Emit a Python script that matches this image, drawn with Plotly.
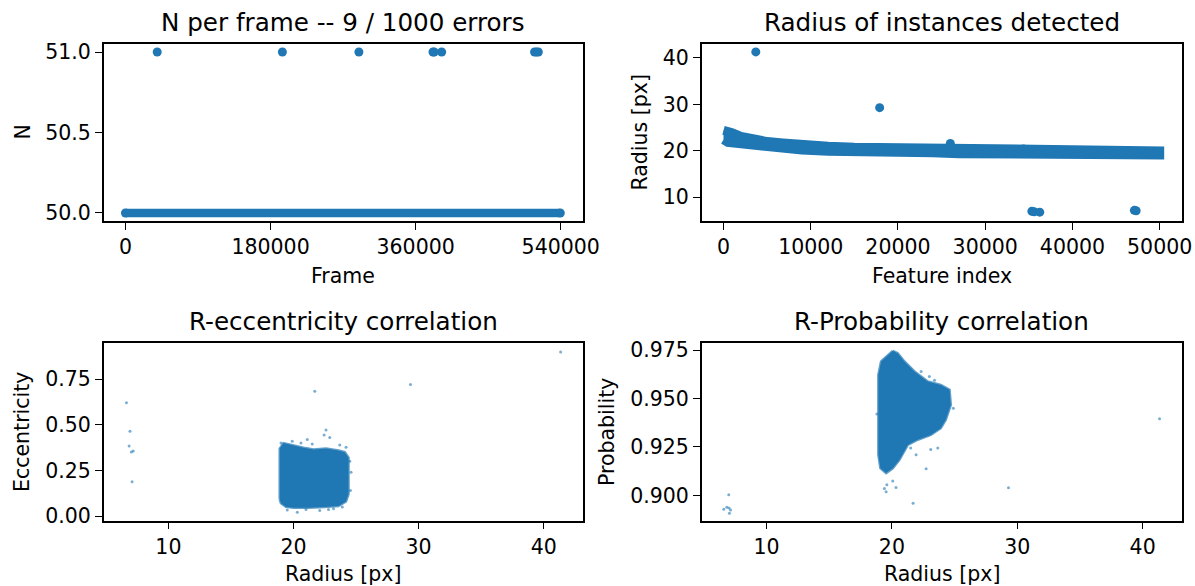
import plotly.graph_objects as go

BLUE = "#1f77b4"
FONT = "DejaVu Sans"
W, H = 1195, 586

# ---------------- data ----------------
# Top-left: N per frame
frame_first, frame_last = 0, 539460
n_expected = 50
error_frames = [39400, 194700, 289600, 381500, 383000, 392300, 507500, 510000, 512200]
error_n = [51, 51, 51, 51, 51, 51, 51, 51, 51]

# Top-right: radius vs feature index (dense band envelope + isolated points)
band_index = [0, 500, 1000, 2000, 3000, 4000, 5000, 6800, 9000, 12000, 15000,
              18000, 21000, 24000, 27000, 30000, 34000, 38000, 42000, 46000, 49999]
band_upper = [24.4, 24.3, 23.9, 23.1, 22.6, 22.3, 22.0, 21.7, 21.3, 21.0, 20.8,
              20.7, 20.6, 20.5, 20.4, 20.2, 20.1, 20.1, 20.1, 20.0, 20.0]
band_lower = [22.4, 21.8, 21.4, 21.3, 21.0, 20.9, 20.7, 20.6, 20.2, 19.9, 19.8,
              19.7, 19.6, 19.6, 19.4, 19.3, 19.2, 19.2, 19.2, 19.1, 19.1]
iso_index = [3700, 17900, 26000, 34400, 35350, 35600, 36250, 47100, 47300]
iso_radius = [41.3, 29.3, 21.6, 20.4, 7.0, 6.9, 6.8, 7.2, 7.1]

# Bottom-left: eccentricity vs radius
ecc_env_r = [18.9, 18.9, 19.2, 19.8, 20.8, 21.6, 22.6, 23.6, 24.1, 24.4, 24.4,
             24.2, 23.6, 22.5, 21.2, 20.0, 19.4, 19.0]
ecc_env_e = [0.09, 0.37, 0.40, 0.39, 0.375, 0.365, 0.37, 0.36, 0.35, 0.32, 0.12,
             0.08, 0.055, 0.05, 0.045, 0.045, 0.05, 0.07]
ecc_pts_r = [21.1, 21.5, 22.45, 22.6, 22.9, 23.7, 24.2, 22.1, 19.5, 24.6, 24.55,
             20.3, 23.2, 19.0, 21.0, 19.9, 20.6, 22.8, 23.9, 24.5,
             6.65, 6.93, 6.86, 7.04, 7.19, 7.1, 21.7, 29.35, 41.35]
ecc_pts_e = [0.42, 0.395, 0.444, 0.472, 0.43, 0.39, 0.377, 0.03, 0.033, 0.24, 0.14,
             0.02, 0.04, 0.40, 0.035, 0.41, 0.40, 0.035, 0.05, 0.30,
             0.621, 0.465, 0.384, 0.351, 0.357, 0.188, 0.684, 0.722, 0.90]

# Bottom-right: probability vs radius
prob_env_r = [20.07, 20.47, 21.0, 21.8, 22.86, 23.9, 24.6, 24.7, 24.3, 23.9, 23.1,
              22.06, 21.27, 20.6, 20.07, 19.54, 19.08, 18.92, 18.92, 19.14]
prob_env_p = [0.9746, 0.9734, 0.9691, 0.964, 0.9588, 0.957, 0.9545, 0.9467, 0.939,
              0.9347, 0.9312, 0.9287, 0.926, 0.9183, 0.914, 0.9115, 0.914, 0.921,
              0.9622, 0.9691]
prob_pts_r = [22.73, 23.66, 23.1, 21.93, 19.54, 20.33, 20.07, 19.4, 22.33, 22.99,
              19.6, 24.9, 23.4, 21.5, 18.8,
              6.59, 6.83, 7.01, 7.13, 7.04, 6.99, 21.69, 29.3, 41.35]
prob_pts_p = [0.9137, 0.9244, 0.9236, 0.921, 0.9019, 0.904, 0.9074, 0.9035, 0.964,
              0.9614, 0.9055, 0.945, 0.9594, 0.9245, 0.942,
              0.8928, 0.8938, 0.8934, 0.8924, 0.8907, 0.9003, 0.8959, 0.9039, 0.9396]

# ---------------- layout helpers ----------------
def px_x(p):
    return p / W

def px_y(p):
    return 1 - p / H

LX = [px_x(103.7), px_x(582.5)]
RX = [px_x(701.7), px_x(1181.5)]
TY = [px_y(221), px_y(44)]
BY = [px_y(520.7), px_y(343.3)]

fig = go.Figure()

# Top-left
fig.add_trace(go.Scatter(x=[frame_first, frame_last], y=[n_expected, n_expected],
                         mode="lines+markers", line=dict(color=BLUE, width=8.5),
                         marker=dict(color=BLUE, size=9), xaxis="x", yaxis="y",
                         showlegend=False))
fig.add_trace(go.Scatter(x=error_frames, y=error_n, mode="markers",
                         marker=dict(color=BLUE, size=9), xaxis="x", yaxis="y",
                         showlegend=False))

# Top-right
fig.add_trace(go.Scatter(x=band_index + band_index[::-1],
                         y=band_upper + band_lower[::-1],
                         mode="lines", fill="toself", fillcolor=BLUE,
                         line=dict(color=BLUE, width=9),
                         xaxis="x2", yaxis="y2", showlegend=False))
fig.add_trace(go.Scatter(x=iso_index, y=iso_radius, mode="markers",
                         marker=dict(color=BLUE, size=9), xaxis="x2", yaxis="y2",
                         showlegend=False))

# Bottom-left
fig.add_trace(go.Scatter(x=ecc_env_r + ecc_env_r[:1], y=ecc_env_e + ecc_env_e[:1],
                         mode="lines", fill="toself", fillcolor=BLUE,
                         line=dict(color="rgba(31,119,180,0.7)", width=2.5),
                         xaxis="x3", yaxis="y3", showlegend=False))
fig.add_trace(go.Scatter(x=ecc_pts_r, y=ecc_pts_e, mode="markers",
                         marker=dict(color=BLUE, size=3, opacity=0.6, line=dict(width=0)),
                         xaxis="x3", yaxis="y3", showlegend=False))

# Bottom-right
fig.add_trace(go.Scatter(x=prob_env_r + prob_env_r[:1], y=prob_env_p + prob_env_p[:1],
                         mode="lines", fill="toself", fillcolor=BLUE,
                         line=dict(color="rgba(31,119,180,0.7)", width=2.5),
                         xaxis="x4", yaxis="y4", showlegend=False))
fig.add_trace(go.Scatter(x=prob_pts_r, y=prob_pts_p, mode="markers",
                         marker=dict(color=BLUE, size=3, opacity=0.6, line=dict(width=0)),
                         xaxis="x4", yaxis="y4", showlegend=False))

TICK_FS = 20.5
TITLE_FS = 24.6
ax_common = dict(showline=True, linecolor="black", linewidth=1.5, mirror=True,
                 ticks="outside", ticklen=7, tickwidth=1.3, tickcolor="black",
                 showgrid=False, zeroline=False, automargin=False,
                 tickfont=dict(family=FONT, size=TICK_FS, color="black"))

fig.update_layout(
    width=W, height=H, margin=dict(l=0, r=0, t=0, b=0, autoexpand=False),
    paper_bgcolor="white", plot_bgcolor="white", showlegend=False,
    xaxis=dict(domain=LX, anchor="y", range=[-27000, 567000],
               tickvals=[0, 180000, 360000, 540000], tickformat="d", **ax_common),
    yaxis=dict(domain=TY, anchor="x", range=[49.95, 51.05],
               tickvals=[50.0, 50.5, 51.0], tickformat=".1f", **ax_common),
    xaxis2=dict(domain=RX, anchor="y2", range=[-2500, 52500],
                tickvals=[0, 10000, 20000, 30000, 40000, 50000], tickformat="d", **ax_common),
    yaxis2=dict(domain=TY, anchor="x2", range=[4.9, 43.0],
                tickvals=[10, 20, 30, 40], **ax_common),
    xaxis3=dict(domain=LX, anchor="y3", range=[4.83, 43.1],
                tickvals=[10, 20, 30, 40], **ax_common),
    yaxis3=dict(domain=BY, anchor="x3", range=[-0.0258, 0.9475],
                tickvals=[0, 0.25, 0.5, 0.75], tickformat=".2f", **ax_common),
    xaxis4=dict(domain=RX, anchor="y4", range=[4.83, 43.1],
                tickvals=[10, 20, 30, 40], **ax_common),
    yaxis4=dict(domain=BY, anchor="x4", range=[0.8869, 0.9785],
                tickvals=[0.9, 0.925, 0.95, 0.975], tickformat=".3f", **ax_common),
)

def ann(text, xp, yp, size, angle=0):
    fig.add_annotation(text=text, x=px_x(xp), y=px_y(yp), xref="paper", yref="paper",
                       xanchor="center", yanchor="middle", showarrow=False,
                       textangle=angle, font=dict(family=FONT, size=size, color="black"))

# Titles
ann("N per frame -- 9 / 1000 errors", (103.7 + 582.5) / 2, 22, TITLE_FS)
ann("Radius of instances detected", (701.7 + 1181.5) / 2, 22, TITLE_FS)
ann("R-eccentricity correlation", (103.7 + 582.5) / 2, 321, TITLE_FS)
ann("R-Probability correlation", (701.7 + 1181.5) / 2, 321, TITLE_FS)
# Axis labels
ann("Frame", (103.7 + 582.5) / 2, 276, TICK_FS)
ann("Feature index", (701.7 + 1181.5) / 2, 276, TICK_FS)
ann("Radius [px]", (103.7 + 582.5) / 2, 574, TICK_FS)
ann("Radius [px]", (701.7 + 1181.5) / 2, 574, TICK_FS)
ann("N", 22, (44 + 221) / 2, TICK_FS, -90)
ann("Radius [px]", 639, (44 + 221) / 2, TICK_FS, -90)
ann("Eccentricity", 22, (343.3 + 520.7) / 2, TICK_FS, -90)
ann("Probability", 607, (343.3 + 520.7) / 2, TICK_FS, -90)

fig.write_html("out.html")
